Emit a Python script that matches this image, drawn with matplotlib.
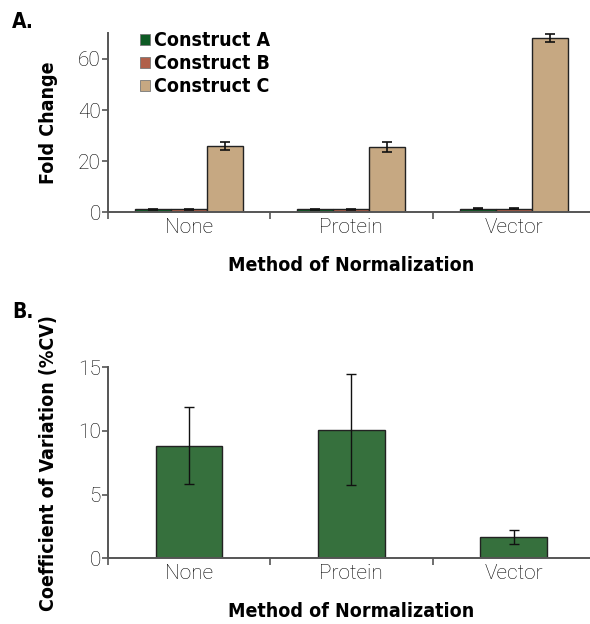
import numpy as np
import matplotlib
matplotlib.use("Agg")
import matplotlib.pyplot as plt

#----------------------------------------------------------
# Data
#----------------------------------------------------------
methods = ["None", "Protein", "Vector"]
series_names = ["Construct A", "Construct B", "Construct C"]

fold_a = [1.2, 1.2, 1.3]
fold_b = [1.2, 1.2, 1.3]
fold_c = [25.8, 25.6, 68.1]
fold_a_err = [0.2, 0.2, 0.2]
fold_b_err = [0.2, 0.2, 0.2]
fold_c_err = [1.6, 2.0, 1.5]

cv_values = [8.85, 10.1, 1.68]
cv_err = [3.0, 4.35, 0.53]

fold_ticks = [0, 20, 40, 60]
cv_ticks = [0, 5, 10, 15]

#----------------------------------------------------------
# Styles
#----------------------------------------------------------
colors = ["#0d5a24", "#b0604a", "#c6a882"]
cv_color = "#36703d"
spine_color = "#555555"
bold_font = dict(family=["DejaVu Sans"], fontweight="bold", fontstretch="condensed")
tick_font = dict(family=["Roboto", "DejaVu Sans"], fontweight="light",
                 fontsize=15, color="#000000")


def StyleAxis(ax, ylim, yticks):
    ax.spines["top"].set_visible(False)
    ax.spines["right"].set_visible(False)
    for s in ["left", "bottom"]:
        ax.spines[s].set_color(spine_color)
        ax.spines[s].set_linewidth(1.4)
    ax.set_xlim(0, len(methods))
    ax.set_ylim(*ylim)
    ax.set_yticks(yticks)
    ax.set_yticklabels([str(t) for t in yticks], **tick_font)
    # boundary ticks between categories, labels at centres
    ax.set_xticks(np.arange(0, len(methods) + 1))
    ax.set_xticklabels([])
    ax.set_xticks(np.arange(len(methods)) + 0.5, minor=True)
    ax.set_xticklabels(methods, minor=True, **tick_font)
    ax.tick_params(axis="x", which="major", length=5, width=1.2, color=spine_color,
                   direction="out")
    ax.tick_params(axis="x", which="minor", length=0, pad=4)
    ax.tick_params(axis="y", length=4, width=1.2, color=spine_color,
                   direction="out", pad=1)
    ax.set_xlabel("Method of Normalization", fontsize=14, labelpad=14, **bold_font)


fig = plt.figure(figsize=(5.9, 6.24), dpi=100)

#----------------------------------------------------------
# Panel A: fold change
#----------------------------------------------------------
ax1 = fig.add_axes([0.1825, 0.6598, 0.826, 0.2868])
x = np.arange(len(methods)) + 0.5
w = 0.222
for i, (vals, errs) in enumerate(zip([fold_a, fold_b, fold_c],
                                     [fold_a_err, fold_b_err, fold_c_err])):
    ax1.bar(x + (i - 1) * w, vals, w, yerr=errs, color=colors[i],
            edgecolor="#222222", linewidth=1.0, label=series_names[i],
            error_kw=dict(ecolor="#111111", elinewidth=1.2, capsize=3.5, capthick=1.2),
            zorder=2)
StyleAxis(ax1, (0, 70), fold_ticks)
ax1.set_ylabel("Fold Change", fontsize=14, labelpad=14, **bold_font)
leg = ax1.legend(loc="upper left", bbox_to_anchor=(0.066, 1.012), frameon=False,
                 prop=dict(family="DejaVu Sans", weight="bold", stretch="condensed", size=14),
                 handlelength=0.5, handleheight=0.5, handletextpad=0.25,
                 labelspacing=0.2, borderaxespad=0, borderpad=0)
for h in leg.legend_handles:
    h.set_linewidth(0.6)
    h.set_edgecolor("#777777")
fig.text(0.02, 0.955, "A.", fontsize=15, **bold_font)

#----------------------------------------------------------
# Panel B: coefficient of variation
#----------------------------------------------------------
ax2 = fig.add_axes([0.1825, 0.1053, 0.826, 0.3061])
ax2.bar(x, cv_values, 0.41, yerr=cv_err, color=cv_color, edgecolor="#222222",
        linewidth=1.0, error_kw=dict(ecolor="#111111", elinewidth=1.0, capsize=3.5,
                                     capthick=1.0), zorder=2)
StyleAxis(ax2, (0, 15), cv_ticks)
ax2.set_ylabel("Coefficient of Variation (%CV)", fontsize=14, labelpad=14, **bold_font)
fig.text(0.02, 0.49, "B.", fontsize=15, **bold_font)

fig.savefig("out.png", dpi=100)
